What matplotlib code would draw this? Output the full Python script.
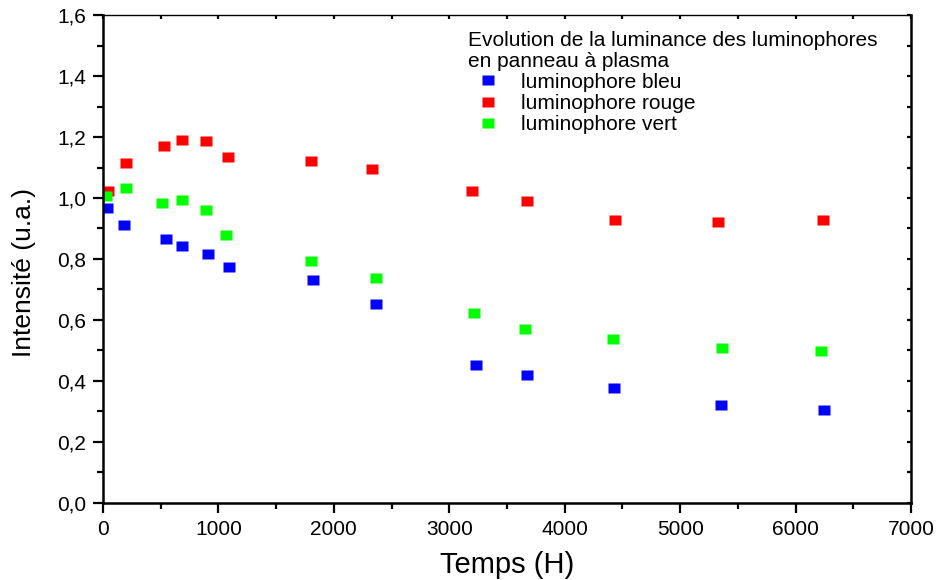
import numpy as np
import matplotlib
matplotlib.use("Agg")
import matplotlib.pyplot as plt
from matplotlib.ticker import MultipleLocator, FuncFormatter

plt.rcParams["font.family"] = ["Liberation Sans", "DejaVu Sans"]

# ── Data ────────────────────────────────────────────────────────────────────
time_bleu = [35, 182, 546, 684, 910, 1092, 1819, 2365, 3231, 3673, 4427, 5354, 6246]
bleu = [0.967, 0.911, 0.866, 0.843, 0.816, 0.774, 0.731, 0.652, 0.452, 0.420, 0.377, 0.321, 0.305]

time_rouge = [43, 199, 528, 684, 892, 1083, 1802, 2330, 3197, 3673, 4436, 5328, 6238]
rouge = [1.023, 1.115, 1.170, 1.190, 1.187, 1.134, 1.121, 1.095, 1.023, 0.990, 0.928, 0.921, 0.928]

time_vert = [26, 199, 511, 684, 892, 1066, 1802, 2365, 3214, 3656, 4418, 5363, 6220]
vert = [1.007, 1.033, 0.984, 0.993, 0.961, 0.879, 0.793, 0.738, 0.623, 0.570, 0.538, 0.508, 0.498]

labels = ["luminophore bleu", "luminophore rouge", "luminophore vert"]
colors = ["#0000FF", "#FF0000", "#00FF00"]
legend_title = "Evolution de la luminance des luminophores\nen panneau à plasma"

# slightly wide square marker, like the original export
RECT = [(-0.6, -0.5), (0.6, -0.5), (0.6, 0.5), (-0.6, 0.5), (-0.6, -0.5)]

fig = plt.figure(figsize=(9.45, 5.8), dpi=100)
ax = fig.add_axes([0.109, 0.133, 0.855, 0.841])

for xs, ys, lab, col in zip([time_bleu, time_rouge, time_vert],
                            [bleu, rouge, vert], labels, colors):
    ax.plot(xs, ys, linestyle="none", marker=RECT, markersize=8.8,
            markerfacecolor=col, markeredgecolor="none", label=lab)

ax.set_xlim(0, 7000)
ax.set_ylim(0, 1.6)
ax.xaxis.set_major_locator(MultipleLocator(1000))
ax.xaxis.set_minor_locator(MultipleLocator(500))
ax.yaxis.set_major_locator(MultipleLocator(0.2))
ax.yaxis.set_minor_locator(MultipleLocator(0.1))
ax.yaxis.set_major_formatter(FuncFormatter(lambda v, p: f"{v:.1f}".replace(".", ",")))

for side in ["left", "bottom", "right"]:
    ax.spines[side].set_linewidth(1.8)
ax.spines["top"].set_linewidth(1.0)

ax.tick_params(which="major", direction="out", length=7, width=1.6,
               labelsize=15, pad=5)
ax.tick_params(which="minor", direction="out", length=4, width=1.6)
# small inward ticks on the mirrored axes
ax.tick_params(which="both", top=True, right=True)
for t in ax.xaxis.get_major_ticks() + ax.xaxis.get_minor_ticks():
    t.tick2line.set_marker(3)
    t.tick2line.set_markersize(3)
for t in ax.yaxis.get_major_ticks() + ax.yaxis.get_minor_ticks():
    t.tick2line.set_marker(0)
    t.tick2line.set_markersize(3)

ax.set_xlabel("Temps (H)", fontsize=21, labelpad=9)
ax.set_ylabel("Intensité (u.a.)", fontsize=19)
ax.yaxis.set_label_coords(-0.083, 0.473)

leg = ax.legend(title=legend_title, loc="upper left",
                bbox_to_anchor=(0.452, 0.967), frameon=False,
                fontsize=15, title_fontsize=15, alignment="left",
                handlelength=1.9, handletextpad=0.65, labelspacing=0.1,
                borderpad=0, borderaxespad=0)
leg.get_title().set_linespacing(1.1)

fig.savefig("out.png", dpi=100)
